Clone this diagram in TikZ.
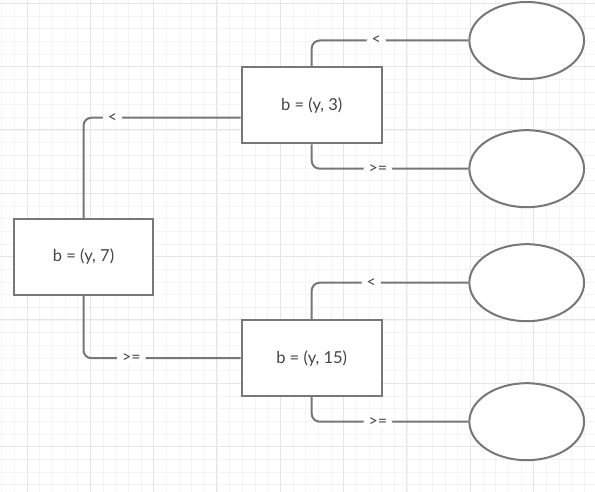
\documentclass[tikz,border=0pt]{standalone}
\usepackage{fontspec}
\setmainfont{Lato}
\usetikzlibrary{shapes.geometric}
\definecolor{lineg}{HTML}{777777}
\definecolor{txtg}{HTML}{444444}
\definecolor{gridminor}{HTML}{F4F4F4}
\definecolor{gridmajor}{HTML}{E6E6E6}
\tikzset{
  box/.style={draw=lineg, line width=2pt, fill=white, minimum width=140pt, minimum height=76pt, inner sep=0pt, text=txtg, font=\fontsize{16.5}{19}\selectfont},
  leaf/.style={ellipse, draw=lineg, line width=2pt, fill=white, minimum width=114.7pt, minimum height=77pt, inner sep=0pt},
  conn/.style={draw=lineg, line width=2pt, rounded corners=8pt},
  lbl/.style={fill=white, inner xsep=5pt, inner ysep=1pt, text=txtg, font=\fontsize{16}{18}\selectfont}
}
\begin{document}
\begin{tikzpicture}[x=1pt, y=-1pt]
\useasboundingbox (0,0) rectangle (595,492);
\fill[white] (0,0) rectangle (595,492);
% grid
\foreach \i in {0,...,47} {
  \draw[gridminor, line width=0.9pt] ({1.67+\i*12.667},0) -- ({1.67+\i*12.667},492);
}
\foreach \i in {0,...,40} {
  \draw[gridminor, line width=0.9pt] (0,{-9.37+\i*12.667}) -- (595,{-9.37+\i*12.667});
}
\foreach \i in {0,...,9} {
  \draw[gridmajor, line width=1pt] ({27+\i*63.33},0) -- ({27+\i*63.33},492);
  \draw[gridmajor, line width=1pt] (0,{3.3+\i*63.33}) -- (595,{3.3+\i*63.33});
}
% nodes
\node[box, minimum width=139pt] (root) at (83.5,257) {b = (y, 7)};
\node[box] (A) at (311.7,105.3) {b = (y, 3)};
\node[box, minimum height=75.7pt] (B) at (311.7,358.2) {b = (y, 15)};
\node[leaf] (e1) at (526.7,40.5) {};
\node[leaf] (e2) at (526.7,168.7) {};
\node[leaf] (e3) at (526.7,282.7) {};
\node[leaf] (e4) at (526.7,421.7) {};
% connectors
\draw[conn] (root.north) |- ([yshift=-12.4pt]A.west) node[lbl, pos=0.592] {<};
\draw[conn] (root.south) |- (B.west) node[lbl, pos=0.652] {>=};
\draw[conn] (A.north) |- (e1.west) node[lbl, pos=0.706] {<};
\draw[conn] (A.south) |- (e2.west) node[lbl, pos=0.711] {>=};
\draw[conn] (B.north) |- (e3.west) node[lbl, pos=0.69] {<};
\draw[conn] (B.south) |- (e4.west) node[lbl, pos=0.711] {>=};
\end{tikzpicture}
\end{document}
